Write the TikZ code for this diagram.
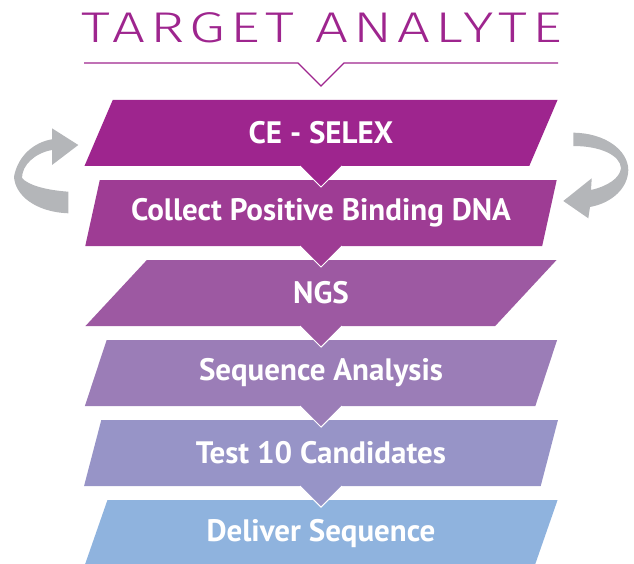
\documentclass[tikz,border=0pt]{standalone}
\usepackage{fontspec}
\setmainfont{PT Sans}
\newfontfamily\titlefont[FakeStretch=1.35,LetterSpace=12]{Fira Sans Light}
\usetikzlibrary{positioning,shapes.geometric}

% step colours, top to bottom
\definecolor{stepA}{RGB}{158,37,142}
\definecolor{stepB}{RGB}{158,60,148}
\definecolor{stepC}{RGB}{157,89,162}
\definecolor{stepD}{RGB}{155,125,183}
\definecolor{stepE}{RGB}{151,148,199}
\definecolor{stepF}{RGB}{143,179,222}
\definecolor{loopgrey}{RGB}{180,182,185}

\tikzset{
  stepbox/.style={trapezium, trapezium left angle=66.5, trapezium right angle=113.5,
    trapezium stretches=true, minimum width=474pt, minimum height=66pt,
    inner sep=0pt, outer sep=0pt, text=white,
    font=\bfseries\fontsize{31}{33}\selectfont},
  notch/.style={white, line width=1pt, line join=miter},
}

\begin{document}
\begin{tikzpicture}[x=1pt,y=-1pt]
    \useasboundingbox (0,0) rectangle (634,564);

    % heading with its pointer line
    \node[font=\titlefont\fontsize{43}{45}\selectfont, text=stepA, anchor=base, inner sep=0pt] (title) at (322,43) {TARGET ANALYTE};
    \draw[stepA, line width=1.4pt] (84,63) -- (298,63) -- (321,86) -- (344,63) -- (558,63);

    % the steps
    \node[stepbox, fill=stepA] (cese) at (321,133) {CE - SELEX};
    \node[stepbox, fill=stepB, below=14pt of cese] (collect) {Collect Positive Binding DNA};
    \node[stepbox, fill=stepC, below=14pt of collect] (ngs) {NGS};
    \node[stepbox, fill=stepD, below=14pt of ngs] (seqan) {Sequence Analysis};
    \node[stepbox, fill=stepE, below=14pt of seqan] (test) {Test 10 Candidates};
    \node[stepbox, fill=stepF, below=14pt of test] (deliver) {Deliver Sequence};

    % pointers hanging under each step
    \foreach \s/\c in {cese/stepA,collect/stepB,ngs/stepC,seqan/stepD,test/stepE}{
        \fill[\c] ([xshift=-21pt]\s.south) -- ([yshift=-21pt]\s.south) -- ([xshift=21pt]\s.south) -- cycle;
        \draw[notch] ([xshift=-21pt]\s.south) -- ([yshift=-21pt]\s.south) -- ([xshift=21pt]\s.south);
    }

    % loop arrows, left and right
    \fill[loopgrey] (78.3,145) -- (52,128.3) -- (52,139.3)
        .. controls (35,142) and (18,155) .. (14,176.7)
        .. controls (15,195) and (35,212) .. (68.3,213.3)
        -- (68.3,191.7)
        .. controls (45,190) and (28,185) .. (22,178)
        .. controls (22,165) and (35,153) .. (52,150)
        -- (52,165) -- cycle;
    \fill[loopgrey] (573.3,132.7)
        .. controls (605,133) and (628,150) .. (628.3,170)
        .. controls (628,188) and (612,203) .. (590,207)
        -- (588.3,218.3) -- (563.3,201) -- (591.7,178.3) -- (591,190)
        .. controls (608,186) and (620,178) .. (621,168)
        .. controls (620,155) and (600,146) .. (573.3,146) -- cycle;
\end{tikzpicture}
\end{document}
